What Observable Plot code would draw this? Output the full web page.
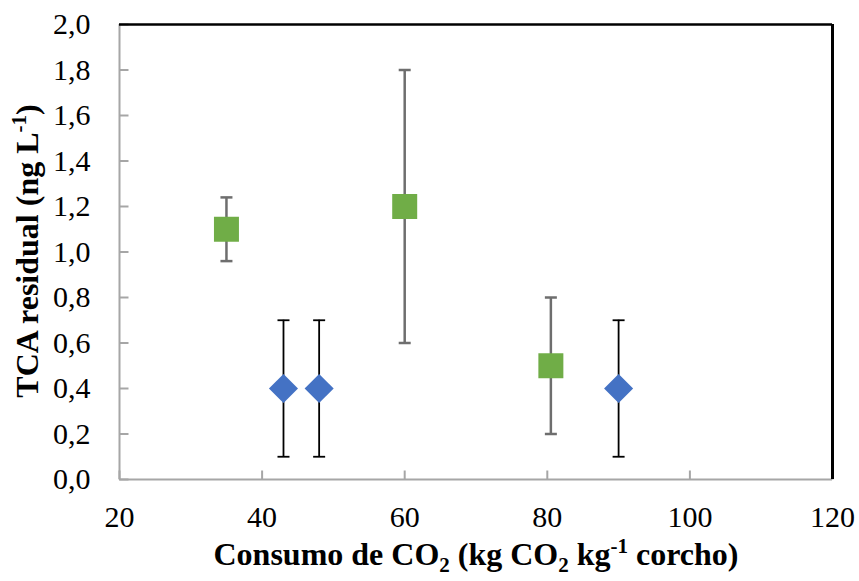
<!DOCTYPE html>
<html>
<head>
<meta charset="utf-8">
<script src="https://cdn.jsdelivr.net/npm/d3@7"></script>
<script src="https://cdn.jsdelivr.net/npm/@observablehq/plot@0.6"></script>
<style>
  html, body { margin: 0; padding: 0; background: #fff; }
  #chart { width: 859px; height: 581px; }
</style>
</head>
<body>
<div id="chart"></div>
<script>
// Tick values
const xTicks = [20, 40, 60, 80, 100, 120];
const yTicks = [0, 0.2, 0.4, 0.6, 0.8, 1.0, 1.2, 1.4, 1.6, 1.8, 2.0];

// Series A (green squares)
const xA = [35, 60, 80.5];
const yA = [1.1, 1.2, 0.5];
const loA = [0.96, 0.6, 0.2];
const hiA = [1.24, 1.8, 0.8];

// Series B (blue diamonds)
const xB = [43, 48, 90];
const yB = [0.4, 0.4, 0.4];
const loB = [0.1, 0.1, 0.1];
const hiB = [0.7, 0.7, 0.7];

const A = xA.map((x, i) => ({x, y: yA[i], lo: loA[i], hi: hiA[i]}));
const B = xB.map((x, i) => ({x, y: yB[i], lo: loB[i], hi: hiB[i]}));

const capSym = {draw(ctx, size) { const r = Math.sqrt(size / Math.PI); ctx.moveTo(-r, 0); ctx.lineTo(r, 0); }};
const yTickSym = {draw(ctx, size) { const r = Math.sqrt(size / Math.PI); ctx.moveTo(0, 0); ctx.lineTo(r, 0); }};
const xTickSym = {draw(ctx, size) { const r = Math.sqrt(size / Math.PI); ctx.moveTo(0, 0); ctx.lineTo(0, -r); }};

const fmt = d => d.toFixed(1).replace(".", ",");
const axisGray = "#a6a6a6";
const serif = "'Liberation Serif', 'Times New Roman', serif";

const chart = Plot.plot({
  width: 859,
  height: 581,
  marginLeft: 119,
  marginRight: 27,
  marginTop: 24,
  marginBottom: 102,
  style: {fontFamily: serif, fontSize: "30px", color: "#000", background: "#fff", overflow: "visible"},
  x: {domain: [20, 120], axis: null},
  y: {domain: [0, 2], axis: null},
  marks: [
    Plot.axisY(yTicks, {tickSize: 0, tickPadding: 29, tickFormat: fmt, label: null, fontSize: 30, fontFamily: serif}),
    Plot.axisX(xTicks, {tickSize: 0, tickPadding: 26, tickFormat: d => String(d), label: null, fontSize: 30, fontFamily: serif}),
    Plot.dot(yTicks, {x: 20, y: d => d, symbol: yTickSym, r: 9, fill: "none", stroke: axisGray, strokeWidth: 2}),
    Plot.dot(xTicks, {x: d => d, y: 0, symbol: xTickSym, r: 9, fill: "none", stroke: axisGray, strokeWidth: 2}),
    Plot.ruleY([0], {stroke: axisGray, strokeWidth: 2}),
    Plot.ruleX([20], {stroke: axisGray, strokeWidth: 2}),
    Plot.ruleY([2], {stroke: "#000", strokeWidth: 2.5}),
    Plot.ruleX([120], {stroke: "#000", strokeWidth: 3}),
    // error bars series A
    Plot.ruleX(A, {x: "x", y1: "lo", y2: "hi", stroke: "#6e6e6e", strokeWidth: 2.5}),
    Plot.dot(A, {x: "x", y: "hi", symbol: capSym, r: 6, fill: "none", stroke: "#6e6e6e", strokeWidth: 2.5}),
    Plot.dot(A, {x: "x", y: "lo", symbol: capSym, r: 6, fill: "none", stroke: "#6e6e6e", strokeWidth: 2.5}),
    // error bars series B
    Plot.ruleX(B, {x: "x", y1: "lo", y2: "hi", stroke: "#000", strokeWidth: 1.8}),
    Plot.dot(B, {x: "x", y: "hi", symbol: capSym, r: 6, fill: "none", stroke: "#000", strokeWidth: 1.8}),
    Plot.dot(B, {x: "x", y: "lo", symbol: capSym, r: 6, fill: "none", stroke: "#000", strokeWidth: 1.8}),
    // markers
    Plot.dot(A, {x: "x", y: "y", symbol: "square", r: 14.1, fill: "#70ad47", stroke: "none"}),
    Plot.dot(B, {x: "x", y: "y", symbol: "diamond2", r: 13.1, fill: "#4472c4", stroke: "none"})
  ]
});

document.getElementById("chart").appendChild(chart);

// Axis titles with subscripts / superscripts
const svg = d3.select(chart);

const xt = svg.append("text")
  .attr("x", 476).attr("y", 565)
  .attr("text-anchor", "middle")
  .attr("font-family", serif).attr("font-weight", "bold").attr("font-size", 32)
  .attr("fill", "#000");
xt.append("tspan").text("Consumo de CO");
xt.append("tspan").attr("font-size", 21).attr("dy", 7).text("2");
xt.append("tspan").attr("dy", -7).text(" (kg CO");
xt.append("tspan").attr("font-size", 21).attr("dy", 7).text("2");
xt.append("tspan").attr("dy", -7).text(" kg");
xt.append("tspan").attr("font-size", 21).attr("dy", -12).text("-1");
xt.append("tspan").attr("dy", 12).text(" corcho)");

const yt = svg.append("text")
  .attr("transform", "translate(38,251) rotate(-90)")
  .attr("text-anchor", "middle")
  .attr("font-family", serif).attr("font-weight", "bold").attr("font-size", 32)
  .attr("fill", "#000");
yt.append("tspan").text("TCA residual (ng L");
yt.append("tspan").attr("font-size", 21).attr("dy", -12).text("-1");
yt.append("tspan").attr("dy", 12).text(")");
</script>
</body>
</html>
